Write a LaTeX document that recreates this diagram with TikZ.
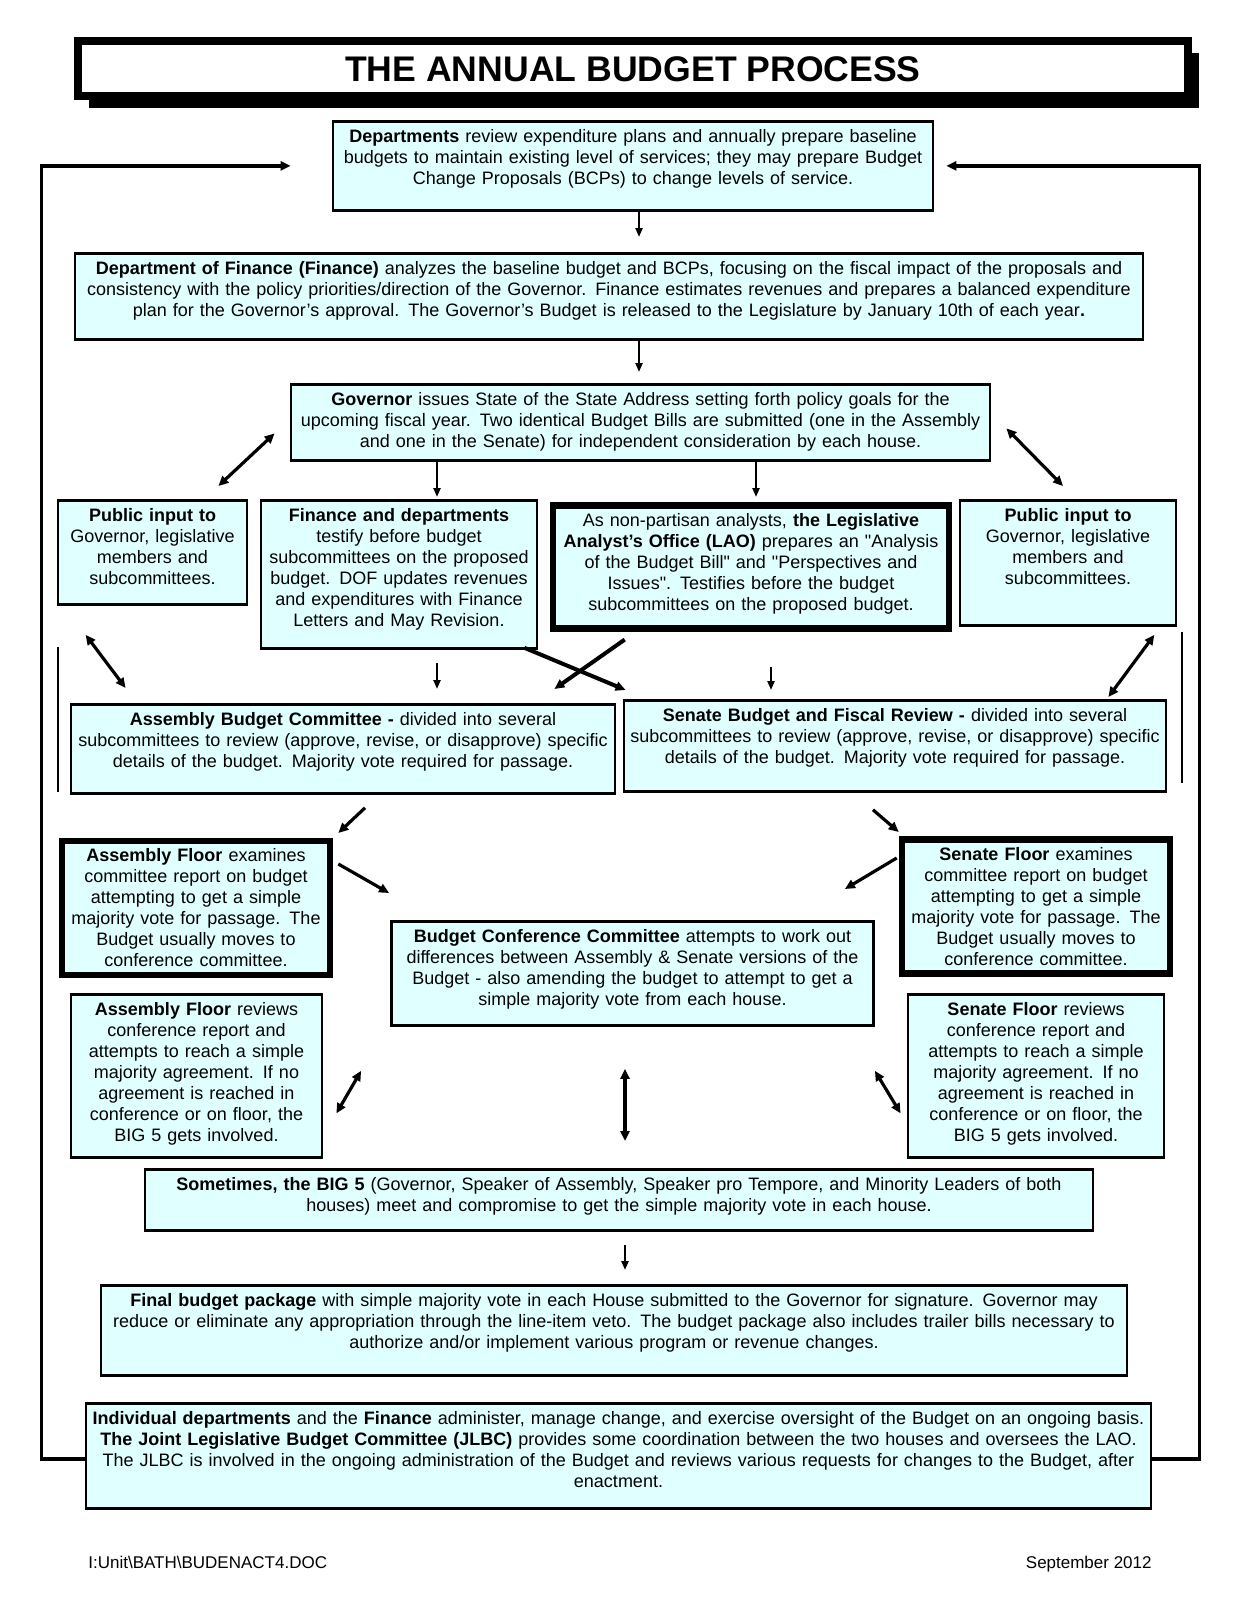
\documentclass[tikz,border=0pt]{standalone}
\usepackage{fontspec}
\setmainfont{Liberation Sans}
\usetikzlibrary{arrows.meta,shadows}
\definecolor{boxfill}{RGB}{224,255,255}

\begin{document}
\begin{tikzpicture}[
    x=0.5pt, y=-0.5pt,
    box/.style={draw, line width=1.4pt, fill=boxfill, anchor=north, align=center, inner xsep=1.5pt, inner ysep=3.5pt, text height=7pt, font=\fontsize{9}{10.5}\selectfont},
    heavy/.style={box, line width=3.3pt},
    banner/.style={draw, line width=4pt, fill=white, minimum width=555pt, minimum height=27.25pt, inner sep=0pt, font=\fontsize{17.8}{22}\selectfont\bfseries, drop shadow={shadow xshift=5.5pt, shadow yshift=-6pt, fill=black, opacity=1}},
    arr/.style={-{Triangle[length=5pt, width=4.5pt]}, line width=1.6pt},
    dblarr/.style={{Triangle[length=5pt, width=4.5pt]}-{Triangle[length=5pt, width=4.5pt]}, line width=1.6pt},
    thinarr/.style={-{Triangle[length=4.5pt, width=3.5pt]}, line width=1.1pt},
    loopline/.style={-{Triangle[length=5pt, width=4.5pt]}, line width=1.6pt, line join=miter},
    stub/.style={line width=1.4pt},
    foot/.style={inner sep=0pt, font=\fontsize{8.5}{10}\selectfont}
]
\path[use as bounding box, fill=white] (0,0) rectangle (1237,1600);

\node[banner] (head) at (633,68.75) {THE ANNUAL BUDGET PROCESS};

\node[box, text width=297pt, text depth=30.5pt] (dept) at (633,120) {\textbf{Departments} review expenditure plans and annually prepare baseline\\ budgets to maintain existing level of services; they may prepare Budget\\ Change Proposals (BCPs) to change levels of service.};
\node[box, text width=531pt, text depth=29pt] (fin) at (609,252) {\textbf{Department of Finance (Finance)} analyzes the baseline budget and BCPs, focusing on the fiscal impact of the proposals and\\ consistency with the policy priorities/direction of the Governor.  Finance estimates revenues and prepares a balanced expenditure\\ plan for the Governor’s approval.  The Governor's Budget is released to the Legislature by January 10th of each year\textbf{.}};
\node[box, text width=346.5pt, text depth=24pt] (gov) at (640.5,383) {\textbf{Governor} issues State of the State Address setting forth policy goals for the\\ upcoming fiscal year.  Two identical Budget Bills are submitted (one in the Assembly\\ and one in the Senate) for independent consideration by each house.};

\node[box, text width=91.5pt, text depth=38pt] (pubL) at (152.5,499) {\textbf{Public input to}\\ Governor, legislative\\ members and\\ subcommittees.};
\node[box, text width=135pt, text depth=60pt] (findep) at (399,499) {\textbf{Finance and departments}\\ testify before budget\\ subcommittees on the proposed\\ budget.  DOF updates revenues\\ and expenditures with Finance\\ Letters and May Revision.};
\node[heavy, text width=195pt, text depth=47.5pt] (lao) at (751,502) {As non-partisan analysts, \textbf{the Legislative}\\ \textbf{Analyst's Office (LAO)} prepares an \textquotedbl Analysis\\ of the Budget Bill\textquotedbl\ and \textquotedbl Perspectives and\\ Issues\textquotedbl.  Testifies before the budget\\ subcommittees on the proposed budget.};
\node[box, text width=105pt, text depth=48.5pt] (pubR) at (1068,499) {\textbf{Public input to}\\ Governor, legislative\\ members and\\ subcommittees.};

\node[box, text width=269pt, text depth=30.5pt] (asmbc) at (343,703) {\textbf{Assembly Budget Committee -} divided into several\\ subcommittees to review (approve, revise, or disapprove) specific\\ details of the budget.  Majority vote required for passage.};
\node[box, text width=268pt, text depth=31.5pt] (senbc) at (895,699) {\textbf{Senate Budget and Fiscal Review -} divided into several\\ subcommittees to review (approve, revise, or disapprove) specific\\ details of the budget.  Majority vote required for passage.};

\node[heavy, text width=131pt, text depth=53pt] (asmfl) at (196,837.5) {\textbf{Assembly Floor} examines\\ committee report on budget\\ attempting to get a simple\\ majority vote for passage.  The\\ Budget usually moves to\\ conference committee.};
\node[heavy, text width=131pt, text depth=53pt] (senfl) at (1036,836) {\textbf{Senate Floor} examines\\ committee report on budget\\ attempting to get a simple\\ majority vote for passage.  The\\ Budget usually moves to\\ conference committee.};
\node[box, text width=238pt, text depth=38pt] (conf) at (632.5,920) {\textbf{Budget Conference Committee} attempts to work out\\ differences between Assembly \& Senate versions of the\\ Budget - also amending the budget to attempt to get a\\ simple majority vote from each house.};
\node[box, text width=122.5pt, text depth=67.5pt] (asmrv) at (196.5,993) {\textbf{Assembly Floor} reviews\\ conference report and\\ attempts to reach a simple\\ majority agreement.  If no\\ agreement is reached in\\ conference or on floor, the\\ BIG 5 gets involved.};
\node[box, text width=125pt, text depth=67.5pt] (senrv) at (1036,993) {\textbf{Senate Floor} reviews\\ conference report and\\ attempts to reach a simple\\ majority agreement.  If no\\ agreement is reached in\\ conference or on floor, the\\ BIG 5 gets involved.};

\node[box, text width=471pt, text depth=16.5pt] (big5) at (619,1168) {\textbf{Sometimes, the BIG 5} (Governor, Speaker of Assembly, Speaker pro Tempore, and Minority Leaders of both\\ houses) meet and compromise to get the simple majority vote in each house.};
\node[box, text width=510pt, text depth=31pt] (final) at (614,1284) {\textbf{Final budget package} with simple majority vote in each House submitted to the Governor for signature.  Governor may\\ reduce or eliminate any appropriation through the line-item veto.  The budget package also includes trailer bills necessary to\\ authorize and/or implement various program or revenue changes.};
\node[box, text width=529.5pt, text depth=38.5pt] (indiv) at (618.5,1402) {\textbf{Individual departments} and the \textbf{Finance} administer, manage change, and exercise oversight of the Budget on an ongoing basis.\\ \textbf{The Joint Legislative Budget Committee (JLBC)} provides some coordination between the two houses and oversees the LAO.\\ The JLBC is involved in the ongoing administration of the Budget and reviews various requests for changes to the Budget, after\\ enactment.};

\node[foot, anchor=base west] (file) at (88,1568) {I:Unit\textbackslash BATH\textbackslash BUDENACT4.DOC};
\node[foot, anchor=base east] (date) at (1152,1568) {September 2012};

\draw[thinarr] ([xshift=3pt]dept.south) -- ([xshift=15pt, yshift=7.5pt]fin.north);
\draw[thinarr] ([xshift=15pt]fin.south) -- ([xshift=-0.75pt, yshift=5.5pt]gov.north);
\draw[dblarr] ([xshift=-7.5pt, yshift=-5.5pt]gov.west) -- ([xshift=-15pt, yshift=6.5pt]pubL.north east);
\draw[thinarr] ([xshift=19pt]findep.north |- gov.south) -- ([xshift=19pt, yshift=1pt]findep.north);
\draw[thinarr] ([xshift=2.5pt]lao.north |- gov.south) -- ([xshift=2.5pt, yshift=2.5pt]lao.north);
\draw[dblarr] ([xshift=7.5pt, yshift=-3pt]gov.east) -- ([xshift=-2.5pt, yshift=6.5pt]pubR.north);
\draw[dblarr] ([xshift=14.5pt, yshift=-14.5pt]pubL.south west) -- ([xshift=28pt, yshift=7.5pt]asmbc.north west);
\draw[thinarr] ([xshift=19pt, yshift=-6.5pt]findep.south) -- ([xshift=19pt, yshift=7pt]findep.south |- asmbc.north);
\draw[arr, line width=2pt] ([xshift=-7pt, yshift=1pt]findep.south east) -- ([xshift=1.5pt, yshift=4.5pt]senbc.north west);
\draw[arr, line width=2pt] ([xshift=37.5pt, yshift=-4pt]lao.south west) -- ([xshift=-31pt, yshift=7pt]asmbc.north east);
\draw[thinarr] ([xshift=10pt, yshift=-17.5pt]lao.south) -- ([xshift=10pt, yshift=4.5pt]lao.south |- senbc.north);
\draw[dblarr] ([xshift=-11.5pt, yshift=-4pt]pubR.south east) -- ([xshift=-29.5pt, yshift=1pt]senbc.north east);
\draw[arr] ([xshift=11pt, yshift=-6.5pt]asmbc.south) -- ([xshift=2.5pt, yshift=2.25pt]asmfl.north east);
\draw[arr] ([xshift=-11pt, yshift=-8.5pt]senbc.south) -- ([yshift=2pt]senfl.north west);
\draw[arr] ([xshift=2.5pt, yshift=-13.25pt]asmfl.north east) -- ([xshift=-0.5pt, yshift=13.5pt]conf.north west);
\draw[arr] ([xshift=-1pt, yshift=-11pt]senfl.north west) -- ([xshift=-15pt, yshift=15.5pt]conf.north east);
\draw[dblarr] ([xshift=-14.5pt, yshift=-22pt]conf.south west) -- ([xshift=6.5pt, yshift=-18.75pt]asmrv.east);
\draw[dblarr] ([xshift=-3.75pt, yshift=-21pt]conf.south) -- ([xshift=3pt, yshift=13.5pt]big5.north);
\draw[dblarr] ([yshift=-22pt]conf.south east) -- ([xshift=-3pt, yshift=-18.75pt]senrv.west);
\draw[thinarr] ([xshift=3pt, yshift=-6.5pt]big5.south) -- ([xshift=5.5pt, yshift=7pt]final.north);

\draw[loopline] ([yshift=-1.5pt]indiv.west) -- ++(-43,0) |- ([xshift=-20.5pt]dept.west);
\draw[loopline] ([yshift=-1.5pt]indiv.east) -- ++(47,0) |- ([xshift=6pt]dept.east);

\draw[stub] (58,647) -- (58,792);
\draw[stub] (1182,632) -- (1182,783);
\end{tikzpicture}
\end{document}
